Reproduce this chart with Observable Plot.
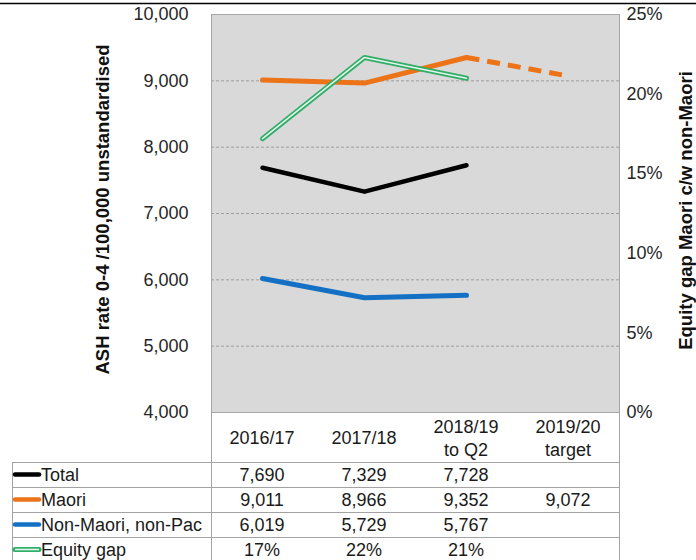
<!DOCTYPE html>
<html>
<head>
<meta charset="utf-8">
<script src="https://cdn.jsdelivr.net/npm/d3@7"></script>
<script src="https://cdn.jsdelivr.net/npm/@observablehq/plot@0.6"></script>
<style>
  html, body { margin: 0; padding: 0; background: #fff; }
  #chart svg { display: block; }
</style>
</head>
<body>
<div id="chart"></div>
<script>
// Reporting periods (a line break splits the two-line headers)
const categories = ["2016/17", "2017/18", "2018/19\nto Q2", "2019/20\ntarget"];

// ASH rate 0-4 per 100,000 (unstandardised)
const total    = [7690, 7329, 7728, null];
const maori    = [9011, 8966, 9352, 9072];
const nonMaori = [6019, 5729, 5767, null];

// Equity gap, Maori compared with non-Maori (secondary axis)
const equityGap = [0.172, 0.223, 0.210, null];

// Axis ticks
const leftTicks  = [4000, 5000, 6000, 7000, 8000, 9000, 10000];
const gridTicks  = [5000, 6000, 7000, 8000, 9000];
const rightTicks = [0, 0.05, 0.10, 0.15, 0.20, 0.25];

const series = [
  {name: "Total",              values: total,     color: "#000000", fmt: d3.format(",")},
  {name: "Maori",              values: maori,     color: "#ec7318", fmt: d3.format(",")},
  {name: "Non-Maori, non-Pac", values: nonMaori,  color: "#1470c4", fmt: d3.format(",")},
  {name: "Equity gap",         values: equityGap, color: "#2eae66", fmt: d3.format(".0%"), double: true}
];

const FONT = "'Liberation Sans', Arial, Helvetica, sans-serif";
const TEXT = "#262626";

// Secondary axis maps 0–25% onto the primary 4,000–10,000 range
const pct = d3.scaleLinear([0, 0.25], [4000, 10000]);

const pts = (vals) => categories.map((c, i) => ({cat: c, value: vals[i]})).filter(d => d.value != null);

const totalPts = pts(total);
const maoriPts = pts(maori);
const maoriActual = maoriPts.slice(0, 3);
const maoriTarget = maoriPts.slice(2, 4);
const nonMaoriPts = pts(nonMaori);
const gapPts = pts(equityGap);

const lineOpts = {x: "cat", y: "value", strokeLinecap: "round", strokeLinejoin: "round"};

const plot = Plot.plot({
  width: 696,
  height: 560,
  marginLeft: 211,
  marginRight: 77,
  marginTop: 14,
  marginBottom: 148,
  style: {fontFamily: FONT, fontSize: "18px", color: TEXT, background: "#fff"},
  x: {type: "point", domain: categories, padding: 0.5, axis: null},
  y: {domain: [4000, 10000]},
  marks: [
    Plot.frame({fill: "#d9d9d9", stroke: "none"}),
    Plot.gridY(gridTicks, {stroke: "#8f8f8f", strokeOpacity: 1, strokeWidth: 0.8, strokeDasharray: "3,2"}),
    Plot.frame({stroke: "#a6a6a6", strokeWidth: 1}),
    Plot.axisY(leftTicks, {anchor: "left", tickSize: 0, tickPadding: 23, tickFormat: d3.format(","), label: null, fontSize: 18}),
    Plot.axisY(rightTicks, {anchor: "right", y: pct, tickSize: 0, tickPadding: 7, tickFormat: d3.format(".0%"), label: null, fontSize: 18}),
    Plot.text(["ASH rate 0-4 /100,000 unstandardised"], {frameAnchor: "left", textAnchor: "middle", rotate: -90, dx: -108, dy: -4, fontWeight: "bold", fontSize: 18.5, fill: "#111"}),
    Plot.text(["Equity gap Maori c/w non-Maori"], {frameAnchor: "right", textAnchor: "middle", rotate: -90, dx: 67, dy: -3, fontWeight: "bold", fontSize: 18.5, fill: "#111"}),
    Plot.line(totalPts, {...lineOpts, stroke: series[0].color, strokeWidth: 4.5}),
    Plot.line(maoriActual, {...lineOpts, stroke: series[1].color, strokeWidth: 5}),
    Plot.line(maoriTarget, {...lineOpts, stroke: series[1].color, strokeWidth: 5, strokeDasharray: "13,8", strokeLinecap: "butt"}),
    Plot.line(nonMaoriPts, {...lineOpts, stroke: series[2].color, strokeWidth: 5}),
    Plot.line(gapPts, {x: "cat", y: d => pct(d.value), stroke: series[3].color, strokeWidth: 5, strokeLinejoin: "miter"}),
    Plot.line(gapPts, {x: "cat", y: d => pct(d.value), stroke: "#e4f4ea", strokeWidth: 1.6, strokeLinejoin: "miter"})
  ]
});

document.getElementById("chart").appendChild(plot);

// Data table under the plot, aligned on the plot's own x scale
const svg = d3.select(plot);
const xs = plot.scale("x");
const frameL = 211, frameR = 619, frameB = 412;
const tableL = 12, rowTop = 462, rowH = 25;
const gridColor = "#a3a3a3";

const tg = svg.append("g").attr("font-family", FONT).attr("font-size", 18).attr("fill", "#1a1a1a");

// top rule across the page
svg.append("line").attr("x1", 0).attr("x2", 696).attr("y1", 3.5).attr("y2", 3.5)
  .attr("stroke", "#000").attr("stroke-width", 1.5);

// table rules
series.forEach((s, i) => {
  const y = rowTop + i * rowH + 0.5;
  tg.append("line").attr("x1", tableL).attr("x2", frameR).attr("y1", y).attr("y2", y)
    .attr("stroke", gridColor).attr("stroke-width", 1);
});
tg.append("line").attr("x1", tableL + 0.5).attr("x2", tableL + 0.5).attr("y1", rowTop).attr("y2", 560)
  .attr("stroke", gridColor);
[frameL + 0.5, frameR + 0.5].forEach(x => {
  tg.append("line").attr("x1", x).attr("x2", x).attr("y1", frameB).attr("y2", 560).attr("stroke", gridColor);
});

// column headers
categories.forEach(c => {
  const lines = c.split("\n");
  const cx = xs.apply(c);
  const mid = (frameB + rowTop) / 2 + 1;
  lines.forEach((t, j) => {
    tg.append("text").attr("x", cx).attr("y", mid + (j - (lines.length - 1) / 2) * 23)
      .attr("dy", "0.35em").attr("text-anchor", "middle").text(t);
  });
});

// rows: legend key, name, values
series.forEach((s, i) => {
  const cy = rowTop + i * rowH + 12.5;
  if (s.double) {
    tg.append("line").attr("x1", 15).attr("x2", 39).attr("y1", cy).attr("y2", cy)
      .attr("stroke", s.color).attr("stroke-width", 5).attr("stroke-linecap", "round");
    tg.append("line").attr("x1", 15).attr("x2", 39).attr("y1", cy).attr("y2", cy)
      .attr("stroke", "#e4f4ea").attr("stroke-width", 1.6);
  } else {
    tg.append("line").attr("x1", 15).attr("x2", 39).attr("y1", cy).attr("y2", cy)
      .attr("stroke", s.color).attr("stroke-width", 4.5).attr("stroke-linecap", "round");
  }
  tg.append("text").attr("x", 41).attr("y", cy).attr("dy", "0.35em")
    .attr("text-anchor", "start").text(s.name);
  s.values.forEach((v, j) => {
    if (v == null) return;
    tg.append("text").attr("x", xs.apply(categories[j])).attr("y", cy).attr("dy", "0.35em")
      .attr("text-anchor", "middle").text(s.fmt(v));
  });
});
</script>
</body>
</html>
